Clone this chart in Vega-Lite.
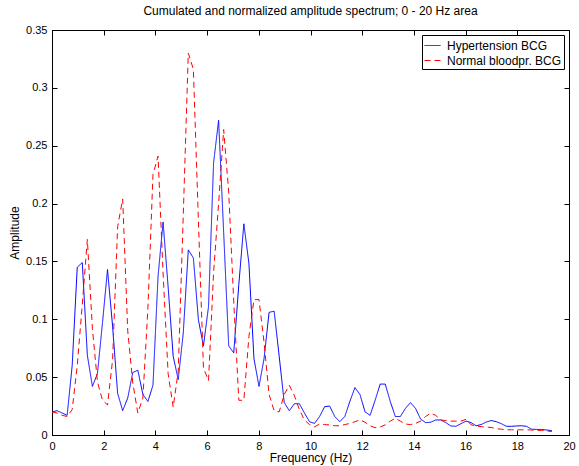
{
  "$schema": "https://vega.github.io/schema/vega-lite/v6.json",
  "width": 517,
  "height": 405,
  "autosize": {"type": "none"},
  "padding": {"left": 52, "top": 30, "right": 10, "bottom": 31},
  "background": "white",
  "title": {"text": "Cumulated and normalized amplitude spectrum; 0 - 20 Hz area", "font": "Liberation Sans", "fontSize": 12, "fontWeight": "normal", "color": "black", "anchor": "middle", "offset": 6},
  "config": {
    "view": {"stroke": "black", "strokeWidth": 1},
    "axis": {"labelFont": "Liberation Sans", "labelFontSize": 11, "labelColor": "black", "titleFont": "Liberation Sans", "titleFontSize": 12, "titleFontWeight": "normal", "titleColor": "black", "grid": false, "domainColor": "black", "tickColor": "black", "domainWidth": 1, "tickWidth": 1}
  },
  "data": {"values": [
    {"f":0,"a":0.020,"s":"Hypertension BCG"},{"f":0.195,"a":0.021,"s":"Hypertension BCG"},{"f":0.391,"a":0.019,"s":"Hypertension BCG"},{"f":0.586,"a":0.017,"s":"Hypertension BCG"},{"f":0.781,"a":0.060,"s":"Hypertension BCG"},{"f":0.977,"a":0.145,"s":"Hypertension BCG"},{"f":1.172,"a":0.149,"s":"Hypertension BCG"},{"f":1.367,"a":0.069,"s":"Hypertension BCG"},{"f":1.563,"a":0.042,"s":"Hypertension BCG"},{"f":1.758,"a":0.053,"s":"Hypertension BCG"},
    {"f":1.953,"a":0.097,"s":"Hypertension BCG"},{"f":2.148,"a":0.143,"s":"Hypertension BCG"},{"f":2.344,"a":0.094,"s":"Hypertension BCG"},{"f":2.539,"a":0.036,"s":"Hypertension BCG"},{"f":2.734,"a":0.021,"s":"Hypertension BCG"},{"f":2.930,"a":0.032,"s":"Hypertension BCG"},{"f":3.125,"a":0.054,"s":"Hypertension BCG"},{"f":3.320,"a":0.056,"s":"Hypertension BCG"},{"f":3.516,"a":0.035,"s":"Hypertension BCG"},{"f":3.711,"a":0.029,"s":"Hypertension BCG"},
    {"f":3.906,"a":0.043,"s":"Hypertension BCG"},{"f":4.102,"a":0.137,"s":"Hypertension BCG"},{"f":4.297,"a":0.184,"s":"Hypertension BCG"},{"f":4.492,"a":0.128,"s":"Hypertension BCG"},{"f":4.688,"a":0.068,"s":"Hypertension BCG"},{"f":4.883,"a":0.048,"s":"Hypertension BCG"},{"f":5.078,"a":0.088,"s":"Hypertension BCG"},{"f":5.273,"a":0.160,"s":"Hypertension BCG"},{"f":5.469,"a":0.153,"s":"Hypertension BCG"},{"f":5.664,"a":0.0995,"s":"Hypertension BCG"},
    {"f":5.859,"a":0.077,"s":"Hypertension BCG"},{"f":6.055,"a":0.111,"s":"Hypertension BCG"},{"f":6.250,"a":0.235,"s":"Hypertension BCG"},{"f":6.445,"a":0.272,"s":"Hypertension BCG"},{"f":6.641,"a":0.175,"s":"Hypertension BCG"},{"f":6.836,"a":0.077,"s":"Hypertension BCG"},{"f":7.031,"a":0.071,"s":"Hypertension BCG"},{"f":7.227,"a":0.130,"s":"Hypertension BCG"},{"f":7.422,"a":0.1825,"s":"Hypertension BCG"},{"f":7.617,"a":0.1485,"s":"Hypertension BCG"},
    {"f":7.813,"a":0.066,"s":"Hypertension BCG"},{"f":8.008,"a":0.042,"s":"Hypertension BCG"},{"f":8.203,"a":0.066,"s":"Hypertension BCG"},{"f":8.398,"a":0.106,"s":"Hypertension BCG"},{"f":8.594,"a":0.107,"s":"Hypertension BCG"},{"f":8.789,"a":0.068,"s":"Hypertension BCG"},{"f":8.984,"a":0.028,"s":"Hypertension BCG"},{"f":9.180,"a":0.021,"s":"Hypertension BCG"},{"f":9.375,"a":0.027,"s":"Hypertension BCG"},{"f":9.570,"a":0.027,"s":"Hypertension BCG"},
    {"f":9.766,"a":0.019,"s":"Hypertension BCG"},{"f":9.961,"a":0.0115,"s":"Hypertension BCG"},{"f":10.156,"a":0.010,"s":"Hypertension BCG"},{"f":10.352,"a":0.016,"s":"Hypertension BCG"},{"f":10.547,"a":0.0245,"s":"Hypertension BCG"},{"f":10.742,"a":0.025,"s":"Hypertension BCG"},{"f":10.938,"a":0.016,"s":"Hypertension BCG"},{"f":11.133,"a":0.0115,"s":"Hypertension BCG"},{"f":11.328,"a":0.016,"s":"Hypertension BCG"},{"f":11.523,"a":0.029,"s":"Hypertension BCG"},
    {"f":11.719,"a":0.041,"s":"Hypertension BCG"},{"f":11.914,"a":0.035,"s":"Hypertension BCG"},{"f":12.109,"a":0.020,"s":"Hypertension BCG"},{"f":12.305,"a":0.017,"s":"Hypertension BCG"},{"f":12.500,"a":0.030,"s":"Hypertension BCG"},{"f":12.695,"a":0.044,"s":"Hypertension BCG"},{"f":12.891,"a":0.044,"s":"Hypertension BCG"},{"f":13.086,"a":0.029,"s":"Hypertension BCG"},{"f":13.281,"a":0.016,"s":"Hypertension BCG"},{"f":13.477,"a":0.016,"s":"Hypertension BCG"},
    {"f":13.672,"a":0.023,"s":"Hypertension BCG"},{"f":13.867,"a":0.028,"s":"Hypertension BCG"},{"f":14.063,"a":0.023,"s":"Hypertension BCG"},{"f":14.258,"a":0.0138,"s":"Hypertension BCG"},{"f":14.453,"a":0.0107,"s":"Hypertension BCG"},{"f":14.648,"a":0.011,"s":"Hypertension BCG"},{"f":14.844,"a":0.013,"s":"Hypertension BCG"},{"f":15.039,"a":0.013,"s":"Hypertension BCG"},{"f":15.234,"a":0.0107,"s":"Hypertension BCG"},{"f":15.430,"a":0.0078,"s":"Hypertension BCG"},
    {"f":15.625,"a":0.0075,"s":"Hypertension BCG"},{"f":15.820,"a":0.0098,"s":"Hypertension BCG"},{"f":16.016,"a":0.012,"s":"Hypertension BCG"},{"f":16.211,"a":0.0107,"s":"Hypertension BCG"},{"f":16.406,"a":0.008,"s":"Hypertension BCG"},{"f":16.602,"a":0.009,"s":"Hypertension BCG"},{"f":16.797,"a":0.0112,"s":"Hypertension BCG"},{"f":16.992,"a":0.0125,"s":"Hypertension BCG"},{"f":17.188,"a":0.0115,"s":"Hypertension BCG"},{"f":17.383,"a":0.0098,"s":"Hypertension BCG"},
    {"f":17.578,"a":0.0075,"s":"Hypertension BCG"},{"f":17.773,"a":0.0075,"s":"Hypertension BCG"},{"f":17.969,"a":0.0078,"s":"Hypertension BCG"},{"f":18.164,"a":0.008,"s":"Hypertension BCG"},{"f":18.359,"a":0.0075,"s":"Hypertension BCG"},{"f":18.555,"a":0.005,"s":"Hypertension BCG"},{"f":18.750,"a":0.0048,"s":"Hypertension BCG"},{"f":18.945,"a":0.0048,"s":"Hypertension BCG"},{"f":19.141,"a":0.0043,"s":"Hypertension BCG"},{"f":19.336,"a":0.0038,"s":"Hypertension BCG"},
    {"f":0,"a":0.020,"s":"Normal bloodpr. BCG"},{"f":0.195,"a":0.019,"s":"Normal bloodpr. BCG"},{"f":0.391,"a":0.017,"s":"Normal bloodpr. BCG"},{"f":0.586,"a":0.016,"s":"Normal bloodpr. BCG"},{"f":0.781,"a":0.022,"s":"Normal bloodpr. BCG"},{"f":0.977,"a":0.060,"s":"Normal bloodpr. BCG"},{"f":1.172,"a":0.113,"s":"Normal bloodpr. BCG"},{"f":1.367,"a":0.169,"s":"Normal bloodpr. BCG"},{"f":1.563,"a":0.092,"s":"Normal bloodpr. BCG"},{"f":1.758,"a":0.046,"s":"Normal bloodpr. BCG"},
    {"f":1.953,"a":0.030,"s":"Normal bloodpr. BCG"},{"f":2.148,"a":0.026,"s":"Normal bloodpr. BCG"},{"f":2.344,"a":0.065,"s":"Normal bloodpr. BCG"},{"f":2.539,"a":0.180,"s":"Normal bloodpr. BCG"},{"f":2.734,"a":0.204,"s":"Normal bloodpr. BCG"},{"f":2.930,"a":0.090,"s":"Normal bloodpr. BCG"},{"f":3.125,"a":0.045,"s":"Normal bloodpr. BCG"},{"f":3.320,"a":0.019,"s":"Normal bloodpr. BCG"},{"f":3.516,"a":0.032,"s":"Normal bloodpr. BCG"},{"f":3.711,"a":0.110,"s":"Normal bloodpr. BCG"},
    {"f":3.906,"a":0.225,"s":"Normal bloodpr. BCG"},{"f":4.102,"a":0.241,"s":"Normal bloodpr. BCG"},{"f":4.297,"a":0.140,"s":"Normal bloodpr. BCG"},{"f":4.492,"a":0.053,"s":"Normal bloodpr. BCG"},{"f":4.688,"a":0.024,"s":"Normal bloodpr. BCG"},{"f":4.883,"a":0.055,"s":"Normal bloodpr. BCG"},{"f":5.078,"a":0.190,"s":"Normal bloodpr. BCG"},{"f":5.273,"a":0.330,"s":"Normal bloodpr. BCG"},{"f":5.469,"a":0.316,"s":"Normal bloodpr. BCG"},{"f":5.664,"a":0.185,"s":"Normal bloodpr. BCG"},
    {"f":5.859,"a":0.058,"s":"Normal bloodpr. BCG"},{"f":6.055,"a":0.047,"s":"Normal bloodpr. BCG"},{"f":6.250,"a":0.140,"s":"Normal bloodpr. BCG"},{"f":6.445,"a":0.200,"s":"Normal bloodpr. BCG"},{"f":6.641,"a":0.264,"s":"Normal bloodpr. BCG"},{"f":6.836,"a":0.210,"s":"Normal bloodpr. BCG"},{"f":7.031,"a":0.115,"s":"Normal bloodpr. BCG"},{"f":7.227,"a":0.030,"s":"Normal bloodpr. BCG"},{"f":7.422,"a":0.030,"s":"Normal bloodpr. BCG"},{"f":7.617,"a":0.085,"s":"Normal bloodpr. BCG"},
    {"f":7.813,"a":0.117,"s":"Normal bloodpr. BCG"},{"f":8.008,"a":0.117,"s":"Normal bloodpr. BCG"},{"f":8.203,"a":0.080,"s":"Normal bloodpr. BCG"},{"f":8.398,"a":0.035,"s":"Normal bloodpr. BCG"},{"f":8.594,"a":0.021,"s":"Normal bloodpr. BCG"},{"f":8.789,"a":0.020,"s":"Normal bloodpr. BCG"},{"f":8.984,"a":0.035,"s":"Normal bloodpr. BCG"},{"f":9.180,"a":0.043,"s":"Normal bloodpr. BCG"},{"f":9.375,"a":0.034,"s":"Normal bloodpr. BCG"},{"f":9.570,"a":0.022,"s":"Normal bloodpr. BCG"},
    {"f":9.766,"a":0.013,"s":"Normal bloodpr. BCG"},{"f":9.961,"a":0.009,"s":"Normal bloodpr. BCG"},{"f":10.156,"a":0.007,"s":"Normal bloodpr. BCG"},{"f":10.352,"a":0.0095,"s":"Normal bloodpr. BCG"},{"f":10.547,"a":0.009,"s":"Normal bloodpr. BCG"},{"f":10.742,"a":0.0087,"s":"Normal bloodpr. BCG"},{"f":10.938,"a":0.008,"s":"Normal bloodpr. BCG"},{"f":11.133,"a":0.008,"s":"Normal bloodpr. BCG"},{"f":11.328,"a":0.009,"s":"Normal bloodpr. BCG"},{"f":11.523,"a":0.010,"s":"Normal bloodpr. BCG"},
    {"f":11.719,"a":0.0115,"s":"Normal bloodpr. BCG"},{"f":11.914,"a":0.013,"s":"Normal bloodpr. BCG"},{"f":12.109,"a":0.011,"s":"Normal bloodpr. BCG"},{"f":12.305,"a":0.008,"s":"Normal bloodpr. BCG"},{"f":12.500,"a":0.0063,"s":"Normal bloodpr. BCG"},{"f":12.695,"a":0.007,"s":"Normal bloodpr. BCG"},{"f":12.891,"a":0.0087,"s":"Normal bloodpr. BCG"},{"f":13.086,"a":0.012,"s":"Normal bloodpr. BCG"},{"f":13.281,"a":0.0144,"s":"Normal bloodpr. BCG"},{"f":13.477,"a":0.012,"s":"Normal bloodpr. BCG"},
    {"f":13.672,"a":0.0095,"s":"Normal bloodpr. BCG"},{"f":13.867,"a":0.009,"s":"Normal bloodpr. BCG"},{"f":14.063,"a":0.010,"s":"Normal bloodpr. BCG"},{"f":14.258,"a":0.012,"s":"Normal bloodpr. BCG"},{"f":14.453,"a":0.016,"s":"Normal bloodpr. BCG"},{"f":14.648,"a":0.0188,"s":"Normal bloodpr. BCG"},{"f":14.844,"a":0.017,"s":"Normal bloodpr. BCG"},{"f":15.039,"a":0.013,"s":"Normal bloodpr. BCG"},{"f":15.234,"a":0.0125,"s":"Normal bloodpr. BCG"},{"f":15.430,"a":0.012,"s":"Normal bloodpr. BCG"},
    {"f":15.625,"a":0.012,"s":"Normal bloodpr. BCG"},{"f":15.820,"a":0.012,"s":"Normal bloodpr. BCG"},{"f":16.016,"a":0.0135,"s":"Normal bloodpr. BCG"},{"f":16.211,"a":0.0088,"s":"Normal bloodpr. BCG"},{"f":16.406,"a":0.0078,"s":"Normal bloodpr. BCG"},{"f":16.602,"a":0.0072,"s":"Normal bloodpr. BCG"},{"f":16.797,"a":0.0068,"s":"Normal bloodpr. BCG"},{"f":16.992,"a":0.0065,"s":"Normal bloodpr. BCG"},{"f":17.188,"a":0.0055,"s":"Normal bloodpr. BCG"},{"f":17.383,"a":0.005,"s":"Normal bloodpr. BCG"},
    {"f":17.578,"a":0.0045,"s":"Normal bloodpr. BCG"},{"f":17.773,"a":0.0045,"s":"Normal bloodpr. BCG"},{"f":17.969,"a":0.0045,"s":"Normal bloodpr. BCG"},{"f":18.164,"a":0.0045,"s":"Normal bloodpr. BCG"},{"f":18.359,"a":0.0045,"s":"Normal bloodpr. BCG"},{"f":18.555,"a":0.0043,"s":"Normal bloodpr. BCG"},{"f":18.750,"a":0.004,"s":"Normal bloodpr. BCG"},{"f":18.945,"a":0.004,"s":"Normal bloodpr. BCG"},{"f":19.141,"a":0.0035,"s":"Normal bloodpr. BCG"},{"f":19.336,"a":0.003,"s":"Normal bloodpr. BCG"}
  ]},
  "layer": [
    {
      "mark": {"type": "line", "strokeWidth": 1, "opacity": 0},
      "encoding": {
        "x": {"field": "f", "type": "quantitative", "scale": {"domain": [0, 20], "nice": false, "zero": false},
              "axis": {"orient": "top", "labels": false, "title": null, "values": [0,2,4,6,8,10,12,14,16,18,20], "tickSize": -5, "domain": false}},
        "y": {"field": "a", "type": "quantitative", "scale": {"domain": [0, 0.35], "nice": false},
              "axis": {"orient": "right", "labels": false, "title": null, "values": [0,0.05,0.1,0.15,0.2,0.25,0.3,0.35], "tickSize": -5, "domain": false}},
        "detail": {"field": "s", "type": "nominal"}
      }
    },
    {
      "mark": {"type": "line", "strokeWidth": 1},
      "encoding": {
        "x": {"field": "f", "type": "quantitative", "scale": {"domain": [0, 20], "nice": false, "zero": false},
              "axis": {"orient": "bottom", "title": "Frequency (Hz)", "values": [0,2,4,6,8,10,12,14,16,18,20], "tickSize": -5, "labelPadding": 10, "titlePadding": 1, "labelFlush": false, "labelOverlap": false}},
        "y": {"field": "a", "type": "quantitative", "scale": {"domain": [0, 0.35], "nice": false},
              "axis": {"orient": "left", "title": "Amplitude", "values": [0,0.05,0.1,0.15,0.2,0.25,0.3,0.35], "format": "~g", "tickSize": -5, "labelPadding": 10, "titlePadding": 4, "labelFlush": false, "labelOverlap": false}},
        "color": {"field": "s", "type": "nominal",
                  "scale": {"domain": ["Hypertension BCG", "Normal bloodpr. BCG"], "range": ["#0000ff", "#ff0000"]},
                  "legend": {"title": null, "orient": "top-right", "offset": 5, "fillColor": "white", "strokeColor": "black", "padding": 2, "labelFont": "Liberation Sans", "labelFontSize": 12, "labelColor": "black", "symbolType": "stroke", "symbolSize": 256, "symbolStrokeWidth": 1, "rowPadding": 0, "labelOffset": 6}},
        "strokeDash": {"field": "s", "type": "nominal",
                       "scale": {"domain": ["Hypertension BCG", "Normal bloodpr. BCG"], "range": [[1, 0], [6, 4]]},
                       "legend": null}
      }
    }
  ],
  "resolve": {"axis": {"x": "independent", "y": "independent"}}
}
